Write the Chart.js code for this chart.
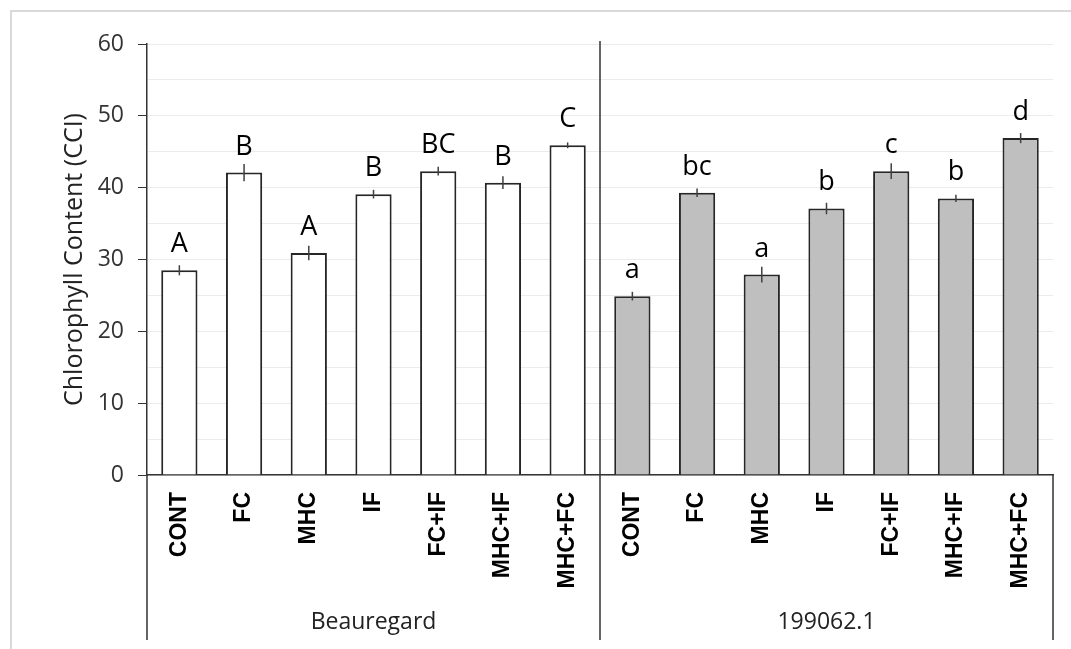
<!DOCTYPE html>
<html>
<head>
<meta charset="utf-8">
<script src="https://cdn.jsdelivr.net/npm/chart.js@4"></script>
<style>
	html, body { margin: 0; background: #fff; }
	#wrap { width: 1071px; height: 649px; position: relative; }
</style>
</head>
<body>
<div id="wrap"><canvas id="chlChart"></canvas></div>
<script>
// treatments repeat for each cultivar
const treatments = ["CONT", "FC", "MHC", "IF", "FC+IF", "MHC+IF", "MHC+FC"];
const cultivars = ["Beauregard", "199062.1"];

const beauregardMeans = [28.5, 42.1, 30.9, 39.1, 42.3, 40.7, 45.9];
const beauregardErrors = [0.7, 1.2, 1.0, 0.6, 0.6, 0.9, 0.4];
const beauregardLetters = ["A", "B", "A", "B", "BC", "B", "C"];

const cloneMeans = [24.9, 39.3, 27.9, 37.1, 42.3, 38.5, 46.9];
const cloneErrors = [0.6, 0.6, 1.1, 0.8, 1.1, 0.5, 0.7];
const cloneLetters = ["a", "bc", "a", "b", "c", "b", "d"];

const yTicks = [0, 10, 20, 30, 40, 50, 60];

const FONT = "'Open Sans', sans-serif";
const empty = treatments.map(() => null);

const allMeans = beauregardMeans.concat(cloneMeans);
const allErrors = beauregardErrors.concat(cloneErrors);
const allLetters = beauregardLetters.concat(cloneLetters);

// error bars, significance letters, cultivar separators
const decorations = {
	id: "decorations",
	beforeDraw(chart) {
		const ctx = chart.ctx;
		ctx.save();
		ctx.strokeStyle = "#d9d9d9";
		ctx.lineWidth = 2;
		ctx.strokeRect(11, 11, 1100, 700);
		ctx.restore();
	},
	afterDatasetsDraw(chart) {
		const { ctx, scales: { x, y } } = chart;
		ctx.save();
		allMeans.forEach((m, i) => {
			const px = x.getPixelForValue(i);
			const e = allErrors[i];
			ctx.strokeStyle = "#404040";
			ctx.lineWidth = 1.5;
			ctx.beginPath();
			ctx.moveTo(px, y.getPixelForValue(m + e));
			ctx.lineTo(px, y.getPixelForValue(m - e));
			ctx.stroke();

			ctx.fillStyle = "#000";
			ctx.font = "27px " + FONT;
			ctx.textAlign = "center";
			ctx.textBaseline = "alphabetic";
			ctx.fillText(allLetters[i], px, y.getPixelForValue(m) - 18);
		});
		ctx.restore();
	},
	afterDraw(chart) {
		const { ctx, chartArea, scales: { x } } = chart;
		const n = treatments.length;
		const mid = (x.getPixelForValue(n - 1) + x.getPixelForValue(n)) / 2;
		const bottom = 640;
		ctx.save();
		ctx.strokeStyle = "#333";
		ctx.lineWidth = 1.5;
		ctx.beginPath();
		ctx.moveTo(chartArea.left, chartArea.bottom);
		ctx.lineTo(chartArea.left, bottom);
		ctx.moveTo(mid, chartArea.top - 3);
		ctx.lineTo(mid, bottom);
		ctx.moveTo(chartArea.right, chartArea.bottom);
		ctx.lineTo(chartArea.right, bottom);
		ctx.stroke();

		ctx.fillStyle = "#222";
		ctx.font = "23px " + FONT;
		ctx.textAlign = "center";
		ctx.textBaseline = "middle";
		ctx.fillText(cultivars[0], (chartArea.left + mid) / 2, 622);
		ctx.fillText(cultivars[1], (mid + chartArea.right) / 2, 622);
		ctx.restore();
	},
};

const ctx = document.getElementById("chlChart").getContext("2d");
new Chart(ctx, {
	type: "bar",
	data: {
		labels: treatments.concat(treatments),
		datasets: [
			{
				label: cultivars[0],
				data: beauregardMeans.concat(empty),
				backgroundColor: "#ffffff",
				borderColor: "#262626",
				borderWidth: 2,
			},
			{
				label: cultivars[1],
				data: empty.concat(cloneMeans),
				backgroundColor: "#bfbfbf",
				borderColor: "#262626",
				borderWidth: 2,
			},
		],
	},
	options: {
		responsive: true,
		maintainAspectRatio: false,
		animation: false,
		grouped: false,
		categoryPercentage: 1,
		barPercentage: 0.56,
		layout: { padding: { top: 44, right: 18, left: 0, bottom: 0 } },
		plugins: {
			legend: { display: false },
			tooltip: { enabled: false },
		},
		scales: {
			x: {
				grid: { display: false },
				border: { display: true, color: "#333", width: 1.5 },
				ticks: {
					autoSkip: false,
					minRotation: 90,
					maxRotation: 90,
					padding: 9,
					color: "#000",
					font: { family: "'Liberation Sans', Arial, sans-serif", size: 23, weight: "bold" },
				},
				afterFit(scale) {
					scale.height = 174;
				},
			},
			y: {
				min: 0,
				max: 60,
				ticks: {
					stepSize: 5,
					padding: 14,
					color: "#333",
					font: { family: FONT, size: 23 },
					callback: (v) => (yTicks.includes(v) ? v : ""),
				},
				grid: {
					color: "#ececec",
					tickLength: 9,
					tickColor: (c) => (c.tick && yTicks.includes(c.tick.value) ? "#333" : "rgba(0,0,0,0)"),
				},
				border: { display: true, color: "#333", width: 1.5 },
				title: {
					display: true,
					text: "Chlorophyll Content (CCI)",
					color: "#222",
					font: { family: FONT, size: 25 },
					padding: { top: 60, bottom: 0 },
				},
				afterFit(scale) {
					scale.width = 147;
				},
			},
		},
	},
	plugins: [decorations],
});
</script>
</body>
</html>
